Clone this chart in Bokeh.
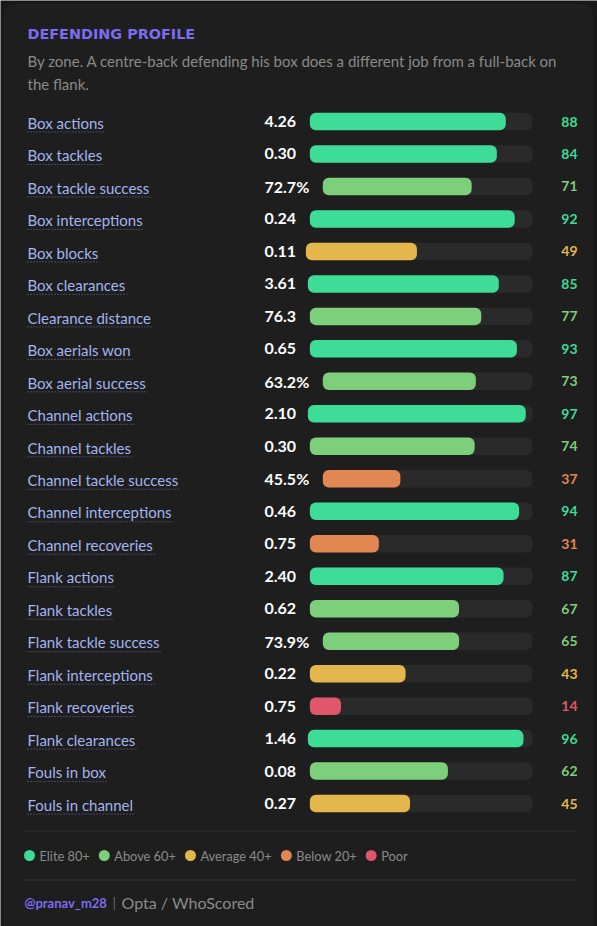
from bokeh.plotting import figure
from bokeh.models import Range1d, BoxAnnotation, ColumnDataSource
from bokeh.embed import file_html
from bokeh.resources import INLINE
from bokeh.core.properties import value

# ---------------- data ----------------
title = "DEFENDING PROFILE"
subtitle_lines = ["By zone. A centre-back defending his box does a different job from a full-back on",
                  "the flank."]
labels = ["Box actions", "Box tackles", "Box tackle success", "Box interceptions", "Box blocks",
          "Box clearances", "Clearance distance", "Box aerials won", "Box aerial success",
          "Channel actions", "Channel tackles", "Channel tackle success", "Channel interceptions",
          "Channel recoveries", "Flank actions", "Flank tackles", "Flank tackle success",
          "Flank interceptions", "Flank recoveries", "Flank clearances", "Fouls in box",
          "Fouls in channel"]
values = [4.26, 0.30, 72.7, 0.24, 0.11, 3.61, 76.3, 0.65, 63.2, 2.10, 0.30, 45.5, 0.46, 0.75,
          2.40, 0.62, 73.9, 0.22, 0.75, 1.46, 0.08, 0.27]
value_fmt = ["{:.2f}", "{:.2f}", "{:.1f}%", "{:.2f}", "{:.2f}", "{:.2f}", "{:.1f}", "{:.2f}", "{:.1f}%",
             "{:.2f}", "{:.2f}", "{:.1f}%", "{:.2f}", "{:.2f}", "{:.2f}", "{:.2f}", "{:.1f}%", "{:.2f}",
             "{:.2f}", "{:.2f}", "{:.2f}", "{:.2f}"]
percentiles = [88, 84, 71, 92, 49, 85, 77, 93, 73, 97, 74, 37, 94, 31, 87, 67, 65, 43, 14, 96, 62, 45]

tier_names = ["Elite 80+", "Above 60+", "Average 40+", "Below 20+", "Poor"]
tier_floor = [80, 60, 40, 20, 0]
tier_colors = ["#3ddc97", "#7dcf7b", "#e3b74b", "#e08752", "#e0566b"]

handle = "@pranav_m28"
source_txt = "Opta / WhoScored"

# ---------------- helpers ----------------
CW = dict(zip("abcdefghijklmnopqrstuvwxyz",
              [0.51, 0.56, 0.46, 0.56, 0.52, 0.32, 0.50, 0.56, 0.24, 0.24, 0.50, 0.24, 0.84,
               0.56, 0.56, 0.56, 0.56, 0.37, 0.43, 0.35, 0.56, 0.50, 0.76, 0.49, 0.50, 0.46]))
CW.update({' ': 0.26, '.': 0.24, '/': 0.38, '|': 0.26, '+': 0.58, '%': 0.81, '@': 0.84,
           '_': 0.5, '-': 0.34, ',': 0.24})
UP = {'I': 0.28, 'F': 0.53, 'B': 0.63, 'C': 0.67, 'E': 0.55, 'P': 0.59, 'W': 0.95, 'S': 0.53,
      'O': 0.76, 'A': 0.68}


def text_w(s, size, narrow_one=False):
    w = 0.0
    for ch in s:
        if ch.isdigit():
            w += 0.47 if (narrow_one and ch == '1') else 0.594
        elif ch in CW:
            w += CW[ch]
        elif ch.isupper():
            w += UP.get(ch, 0.66)
        else:
            w += 0.55
    return w * size


def tier(pv):
    for i, f in enumerate(tier_floor):
        if pv >= f:
            return i
    return len(tier_floor) - 1


# ---------------- figure ----------------
W, H = 597, 926
p = figure(width=W, height=H, x_range=Range1d(0, W), y_range=Range1d(H, 0),
           output_backend="svg", toolbar_location=None, min_border=0,
           x_axis_location=None, y_axis_location=None)
p.grid.visible = False
p.outline_line_color = None
p.background_fill_color = "#181818"
p.border_fill_color = "#181818"

card = BoxAnnotation(left=4, right=592, top=4, bottom=960, fill_color="#1e1e1e", fill_alpha=1,
                     line_color="#2e2e2e", line_width=1, border_radius=10, level="underlay")
p.add_layout(card)

LFONT = value("Lato")

# title & subtitle
p.text(x=[27], y=[33.5], text=[title], text_font=value("DejaVu Sans"), text_font_style="bold",
       text_font_size="14.4px", text_color="#7b6cf0", text_baseline="middle", text_align="left")
p.text(x=[27, 27], y=[60, 83], text=subtitle_lines, text_font=LFONT, text_font_size="15px",
       text_color="#8a8a8a", text_baseline="middle", text_align="left")

# rows
n = len(labels)
row0, step = 121.0, 32.48
ys = [row0 + i * step for i in range(n)]
vtexts = [f.format(v) for f, v in zip(value_fmt, values)]
VAL_X, TRACK_END, GAP = 264, 532, 13
starts = [VAL_X + text_w(t, 16, narrow_one=True) + GAP for t in vtexts]
fills = [s + (TRACK_END - s) * pv / 100.0 for s, pv in zip(starts, percentiles)]
cols = [tier_colors[tier(pv)] for pv in percentiles]
lab_w = [text_w(l, 15) * 1.02 for l in labels]

src = ColumnDataSource(dict(
    y=ys, ylab=[y + 1.2 for y in ys], yline=[y + 10.5 for y in ys],
    label=labels, lx=[27] * n, lx1=[27 + w for w in lab_w],
    vtext=vtexts, vx=[VAL_X] * n, start=starts, fill=fills,
    tend=[TRACK_END] * n, color=cols, ptext=[str(v) for v in percentiles], px=[577] * n))

p.text(x="lx", y="ylab", text="label", source=src, text_font=LFONT, text_font_size="15px",
       text_color="#a3b4f0", text_baseline="middle", text_align="left")
p.segment(x0="lx", y0="yline", x1="lx1", y1="yline", source=src, line_color="#66739e",
          line_width=1, line_dash="1 2")
p.text(x="vx", y="y", text="vtext", source=src, text_font=LFONT, text_font_style="bold",
       text_font_size="16px", text_color="#ffffff", text_baseline="middle", text_align="left")
p.hbar(y="y", left="start", right="tend", height=17.5, source=src, fill_color="#2a2a2a",
       line_color=None, border_radius=6)
p.hbar(y="y", left="start", right="fill", height=17.5, source=src, fill_color="color",
       line_color=None, border_radius=6)
p.text(x="px", y="y", text="ptext", source=src, text_font=LFONT, text_font_style="bold",
       text_font_size="14px", text_color="color", text_baseline="middle", text_align="right")

# separators
p.segment(x0=[23, 23], y0=[830.5, 879.5], x1=[577, 577], y1=[830.5, 879.5],
          line_color="#313131", line_width=1)

# legend
LEG_SIZE = 12.8
lx, dot_x, txt_x = 29, [], []
for nm in tier_names:
    dot_x.append(lx)
    txt_x.append(lx + 10)
    lx = lx + 10 + text_w(nm, LEG_SIZE) * 0.97 + 16
p.scatter(x=dot_x, y=[855] * len(dot_x), size=11, marker="circle", fill_color=tier_colors,
          line_color=None)
p.text(x=txt_x, y=[855.5] * len(txt_x), text=tier_names, text_font=LFONT,
       text_font_size=f"{LEG_SIZE}px", text_color="#8a8a8a", text_baseline="middle",
       text_align="left")

# footer
hx = 24
bar_x = hx + text_w(handle, 13) * 1.05 + 1
sx = bar_x + 9
p.text(x=[hx], y=[902], text=[handle], text_font=LFONT, text_font_style="bold",
       text_font_size="13px", text_color="#7b6cf0", text_baseline="middle", text_align="left")
p.text(x=[bar_x], y=[902], text=["|"], text_font=LFONT, text_font_size="14px",
       text_color="#666666", text_baseline="middle", text_align="left")
p.text(x=[sx], y=[902], text=[source_txt], text_font=LFONT, text_font_size="16px",
       text_color="#8a8a8a", text_baseline="middle", text_align="left")

open("out.html", "w").write(file_html(p, INLINE))
